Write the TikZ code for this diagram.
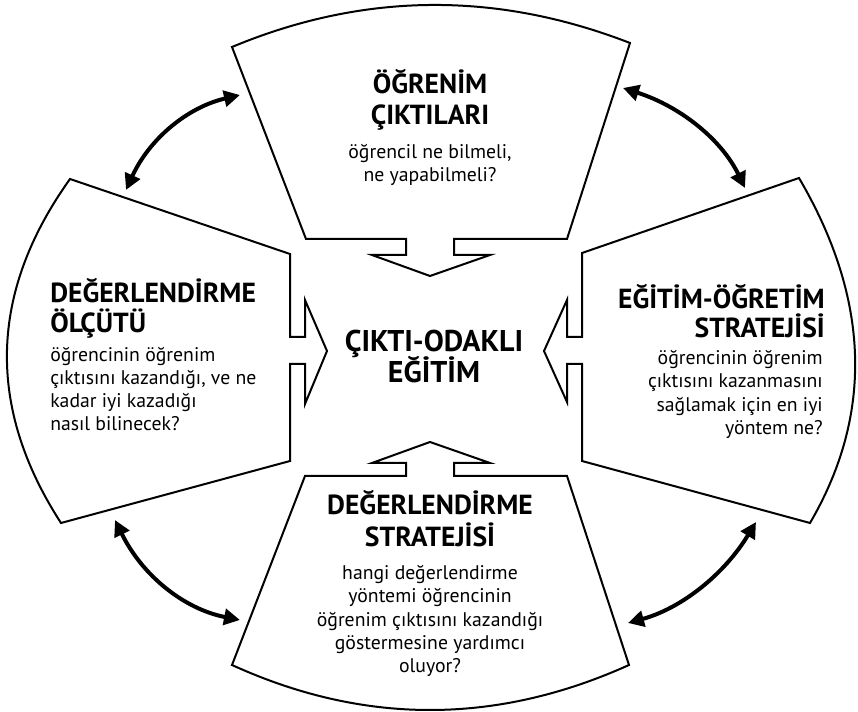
\documentclass[tikz,border=0pt]{standalone}
\usepackage{fontspec}
\setmainfont{PT Sans}
\usetikzlibrary{arrows.meta}
\begin{document}
\begin{tikzpicture}[x=0.75pt,y=-0.75pt,
  shp/.style={draw=black,line width=1.5pt,line join=miter,fill=white},
  dbl/.style={line width=3pt,{Triangle[length=12pt,width=12pt]}-{Triangle[length=12pt,width=12pt]}},
  ttl/.style={font=\bfseries\fontsize{20.7}{20.7}\selectfont,inner sep=0pt},
  ctr/.style={font=\bfseries\fontsize{22.5}{22.5}\selectfont,inner sep=0pt},
  bod/.style={font=\fontsize{14.8}{14.8}\selectfont,inner sep=0pt}]
\useasboundingbox (0,0) rectangle (858,712);
% top shape
\draw[shp] (232,47) .. controls (363.3,-7.7) and (496,-9) .. (630,43) -- (567,239) -- (454,239) -- (454,255) -- (490,255) -- (430,276) -- (372,255) -- (406,255) -- (406,239) -- (306,239) -- cycle;
% left shape
\draw[shp] (70,179) -- (290,254) -- (290,337) -- (305,337) -- (305,300) -- (327,351) -- (305,404) -- (305,364) -- (290,364) -- (290,461) -- (61,523) .. controls (-14,407) and (-11,292.3) .. (70,179) -- cycle;
% right shape
\draw[shp] (799,178) -- (582,253) -- (582,337) -- (567,337) -- (567,300) -- (544,351) -- (567,402) -- (567,364) -- (582,364) -- (582,461) -- (810,523) .. controls (873.7,414) and (870,299) .. (799,178) -- cycle;
% bottom shape
\draw[shp] (305,476) -- (406,476) -- (406,463) -- (372,463) -- (430,442) -- (490,463) -- (454,463) -- (454,476) -- (567,476) -- (629,665) .. controls (496,725) and (363.7,725) .. (232,665) -- cycle;
% coordinates of double arrows
\coordinate (a1) at (126,190); \coordinate (a2) at (240,95);
\coordinate (b1) at (623,88);  \coordinate (b2) at (745,188);
\coordinate (c1) at (115,520); \coordinate (c2) at (240,620);
\coordinate (d1) at (756,522); \coordinate (d2) at (628,623);
\draw[dbl] (a1) .. controls (149.3,139) and (187.3,107.3) .. (a2);
\draw[dbl] (b1) .. controls (681,106.7) and (721.7,140) .. (b2);
\draw[dbl] (c1) .. controls (142.3,575.6) and (184,609) .. (c2);
\draw[dbl] (d1) .. controls (724,574.7) and (681.3,608.3) .. (d2);
% centre
\node[ctr,anchor=base] (c1t) at (434,352) {ÇIKTI-ODAKLI};
\node[ctr,anchor=base] (c2t) at (434,383) {EĞİTİM};
% top text
\node[ttl,anchor=base] (t1) at (430,94) {ÖĞRENİM};
\node[ttl,anchor=base] (t2) at (430,125) {ÇIKTILARI};
\node[bod,anchor=base] (t3) at (430,159) {öğrencil ne bilmeli,};
\node[bod,anchor=base] (t4) at (430,182) {ne yapabilmeli?};
% left text
\node[ttl,anchor=base west] (l1) at (50,303) {DEĞERLENDİRME};
\node[ttl,anchor=base west] (l2) at (50,333) {ÖLÇÜTÜ};
\node[bod,anchor=base west] (l3) at (50,362) {öğrencinin öğrenim};
\node[bod,anchor=base west] (l4) at (50,385) {çıktısını kazandığı, ve ne};
\node[bod,anchor=base west] (l5) at (50,408) {kadar iyi kazadığı};
\node[bod,anchor=base west] (l6) at (50,431) {nasıl bilinecek?};
% right text
\node[ttl,anchor=base east] (r1) at (825,309) {EĞİTİM-ÖĞRETİM};
\node[ttl,anchor=base east] (r2) at (825,338) {STRATEJİSİ};
\node[bod,anchor=base east] (r3) at (823,365) {öğrencinin öğrenim};
\node[bod,anchor=base east] (r4) at (823,388) {çıktısını kazanmasını};
\node[bod,anchor=base east] (r5) at (823,412) {sağlamak için en iyi};
\node[bod,anchor=base east] (r6) at (823,435) {yöntem ne?};
% bottom text
\node[ttl,anchor=base] (m1) at (430,515) {DEĞERLENDİRME};
\node[ttl,anchor=base] (m2) at (430,547) {STRATEJİSİ};
\node[bod,anchor=base] (m3) at (430,580) {hangi değerlendirme};
\node[bod,anchor=base] (m4) at (430,603) {yöntemi öğrencinin};
\node[bod,anchor=base] (m5) at (430,627) {öğrenim çıktısını kazandığı};
\node[bod,anchor=base] (m6) at (430,650) {göstermesine yardımcı};
\node[bod,anchor=base] (m7) at (430,673) {oluyor?};
\end{tikzpicture}
\end{document}
